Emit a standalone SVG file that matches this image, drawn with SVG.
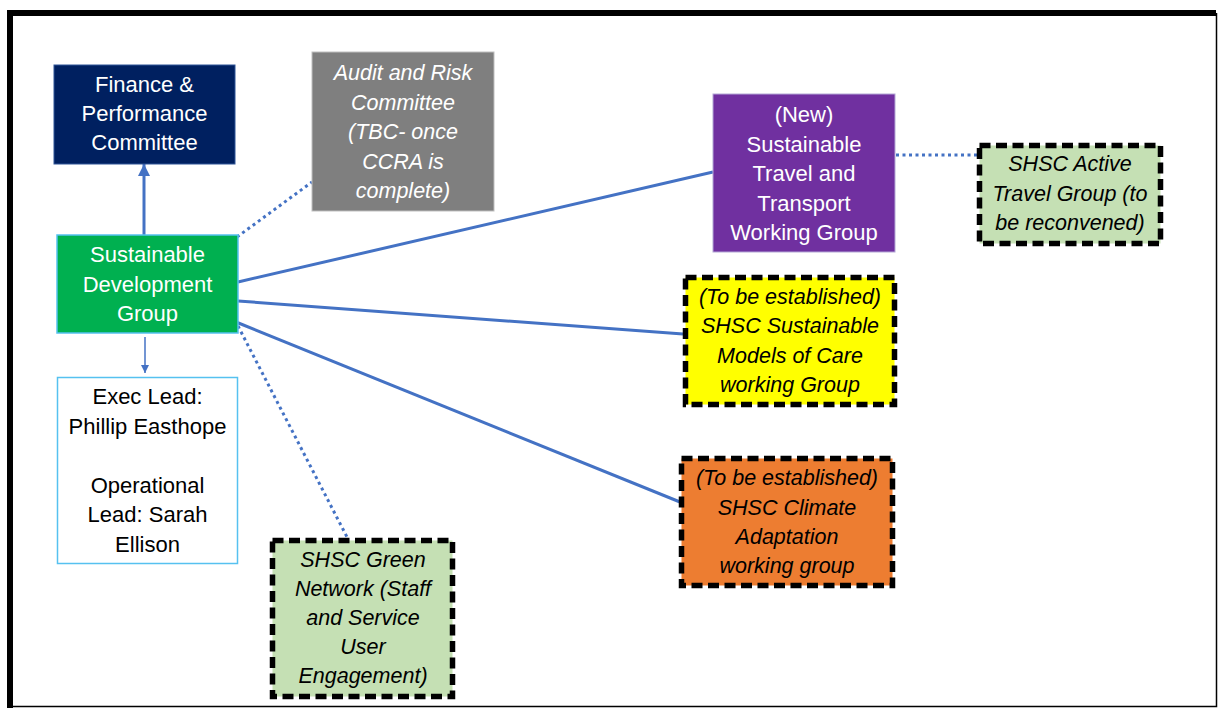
<svg xmlns="http://www.w3.org/2000/svg" width="1218" height="708" viewBox="0 0 1218 708">
<defs>
<style>
.t{font-family:"Liberation Sans",Arial,sans-serif;font-size:22px;text-anchor:middle}
.w{fill:#ffffff}
.k{fill:#000000}
.i{font-style:italic;font-size:21.5px}
.dash{stroke:#000000;stroke-width:5.5;stroke-dasharray:11 5.5}
.solid{stroke:#4472C4;stroke-width:3;fill:none}
.dot{stroke:#4472C4;stroke-width:3;fill:none;stroke-dasharray:3 3.5}
</style>
<marker id="ah" viewBox="0 0 12 12" refX="12" refY="6" markerWidth="12" markerHeight="12" markerUnits="userSpaceOnUse" orient="auto">
<path d="M0,0 L12,6 L0,12 Z" fill="#4472C4"/>
</marker>
<marker id="ahs" viewBox="0 0 8 8" refX="8" refY="4" markerWidth="8" markerHeight="8" markerUnits="userSpaceOnUse" orient="auto">
<path d="M0,0 L8,4 L0,8 Z" fill="#4472C4"/>
</marker>
</defs>
<rect x="0" y="0" width="1218" height="708" fill="#ffffff"/>
<g id="frame">
<path d="M10,708 V13 H1216" fill="none" stroke="#000000" stroke-width="6"/>
<path d="M1216.5,13 V706.5 H10" fill="none" stroke="#000000" stroke-width="1.5"/>
</g>
<g id="connectors">
<line class="solid" x1="144" y1="235" x2="144" y2="164" marker-end="url(#ah)"/>
<line class="solid" x1="145" y1="337" x2="145" y2="373" style="stroke-width:1.5" marker-end="url(#ahs)"/>
<line class="dot" x1="237" y1="237" x2="312" y2="182"/>
<line class="solid" x1="238" y1="282" x2="713" y2="172"/>
<line class="solid" x1="238" y1="301" x2="683" y2="334"/>
<line class="solid" x1="236" y1="322" x2="680" y2="502"/>
<line class="dot" x1="238" y1="326" x2="347" y2="537"/>
<line class="dot" x1="896" y1="155" x2="977" y2="155"/>
</g>
<g id="finance">
<rect x="54" y="65" width="181" height="99" fill="#002060" stroke="#2F5597" stroke-width="1"/>
<text class="t w" x="144.5" y="92">Finance &amp;</text>
<text class="t w" x="144.5" y="121">Performance</text>
<text class="t w" x="144.5" y="150">Committee</text>
</g>
<g id="audit">
<rect x="312" y="52" width="182" height="159" fill="#7F7F7F" stroke="#BFBFBF" stroke-width="1"/>
<text class="t w i" x="403" y="80">Audit and Risk</text>
<text class="t w i" x="403" y="109.5">Committee</text>
<text class="t w i" x="403" y="139">(TBC- once</text>
<text class="t w i" x="403" y="168.5">CCRA is</text>
<text class="t w i" x="403" y="198">complete)</text>
</g>
<g id="sdg">
<rect x="57" y="235" width="181" height="98" fill="#00B050" stroke="#56C1F0" stroke-width="1.5"/>
<text class="t w" x="147.5" y="262">Sustainable</text>
<text class="t w" x="147.5" y="291.5">Development</text>
<text class="t w" x="147.5" y="321">Group</text>
</g>
<g id="exec">
<rect x="57.5" y="377.5" width="180" height="186" fill="#ffffff" stroke="#56C1F0" stroke-width="1.5"/>
<text class="t k" x="147.5" y="404">Exec Lead:</text>
<text class="t k" x="147.5" y="433.5">Phillip Easthope</text>
<text class="t k" x="147.5" y="492.5">Operational</text>
<text class="t k" x="147.5" y="522">Lead: Sarah</text>
<text class="t k" x="147.5" y="551.5">Ellison</text>
</g>
<g id="travel">
<rect x="713" y="94" width="182" height="158" fill="#7030A0" stroke="#B4A7D6" stroke-width="1"/>
<text class="t w" x="804" y="122">(New)</text>
<text class="t w" x="804" y="151.5">Sustainable</text>
<text class="t w" x="804" y="181">Travel and</text>
<text class="t w" x="804" y="210.5">Transport</text>
<text class="t w" x="804" y="240">Working Group</text>
</g>
<g id="active">
<rect x="979.5" y="145.5" width="181" height="98" fill="#C5E0B4" class="dash"/>
<text class="t k i" x="1070" y="171">SHSC Active</text>
<text class="t k i" x="1070" y="200.5">Travel Group (to</text>
<text class="t k i" x="1070" y="230">be reconvened)</text>
</g>
<g id="models">
<rect x="685.5" y="277.5" width="209" height="127" fill="#FFFF00" class="dash"/>
<text class="t k i" x="790" y="303.5">(To be established)</text>
<text class="t k i" x="790" y="333">SHSC Sustainable</text>
<text class="t k i" x="790" y="362.5">Models of Care</text>
<text class="t k i" x="790" y="392">working Group</text>
</g>
<g id="climate">
<rect x="681.5" y="458.5" width="211" height="127" fill="#ED7D31" class="dash"/>
<text class="t k i" x="787" y="485">(To be established)</text>
<text class="t k i" x="787" y="514.5">SHSC Climate</text>
<text class="t k i" x="787" y="544">Adaptation</text>
<text class="t k i" x="787" y="573">working group</text>
</g>
<g id="green">
<rect x="272.5" y="540.5" width="180" height="156" fill="#C5E0B4" class="dash"/>
<text class="t k i" x="363" y="567">SHSC Green</text>
<text class="t k i" x="363" y="596">Network (Staff</text>
<text class="t k i" x="363" y="625">and Service</text>
<text class="t k i" x="363" y="654">User</text>
<text class="t k i" x="363" y="683">Engagement)</text>
</g>
</svg>
